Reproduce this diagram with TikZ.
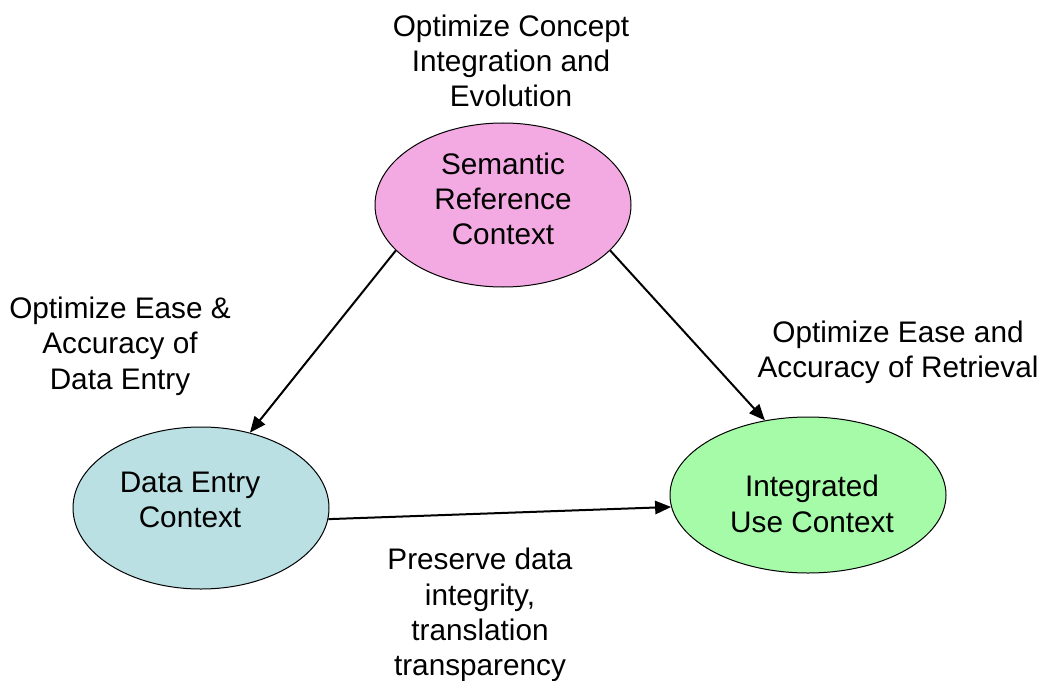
\documentclass[tikz,border=0pt]{standalone}
\usepackage{fontspec}
\setmainfont{Liberation Sans}
\usetikzlibrary{shapes.geometric,arrows.meta}

\definecolor{pinkfill}{RGB}{243,170,226}
\definecolor{bluefill}{RGB}{186,224,228}
\definecolor{greenfill}{RGB}{166,251,168}

\tikzset{
  ctxshape/.style={ellipse, draw=black, line width=0.75pt, inner sep=0pt},
  txt/.style={align=center, inner sep=0pt,
    font=\fontsize{22.3pt}{26.5pt}\selectfont},
  flow/.style={line width=1.5pt, -{Triangle[length=12pt,width=10pt]}}
}

\begin{document}
\begin{tikzpicture}[x=0.75pt, y=-0.75pt]
  \useasboundingbox (0,0) rectangle (1038,681);

  % the three contexts
  \node[ctxshape, fill=pinkfill, minimum width=192pt, minimum height=123pt] (sem) at (503,205) {};
  \node[ctxshape, fill=bluefill, minimum width=192pt, minimum height=121.5pt] (de) at (201,508) {};
  \node[ctxshape, fill=greenfill, minimum width=207pt, minimum height=117pt] (int) at (808,495) {};

  \node[txt] (semtxt) at (503,199) {Semantic\\Reference\\Context};
  \node[txt] (detxt) at (190,500) {Data Entry\\Context};
  \node[txt] (inttxt) at (812,504) {Integrated\\Use Context};

  % goals attached to each context and transition
  \node[txt] (goaltop) at (511,61) {Optimize Concept\\Integration and\\Evolution};
  \node[txt] (goalleft) at (120,346) {Optimize Ease \&\\Accuracy of\\Data Entry};
  \node[txt] (goalright) at (898,352) {Optimize Ease and\\Accuracy of Retrieval};
  \node[txt] (goalbottom) at (480,615) {Preserve data\\integrity,\\translation\\transparency};

  % transitions
  \draw[flow] (sem.203.9) -- (de.57.9);
  \draw[flow] (sem.337.1) -- (int.120);
  \draw[flow] (de.355.6) -- (int.185.4);
\end{tikzpicture}
\end{document}
